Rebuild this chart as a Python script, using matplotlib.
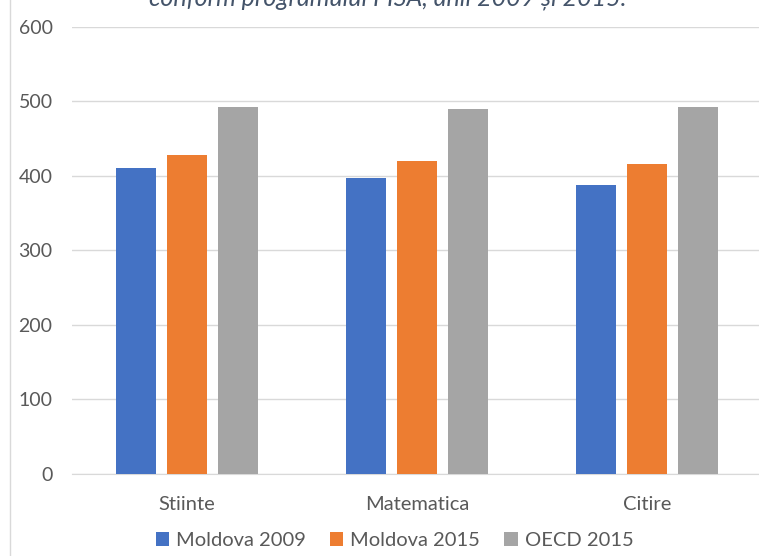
import matplotlib.pyplot as plt
import numpy as np

plt.rcParams['font.family'] = ['Lato', 'DejaVu Sans']

# date
categorii = ['Stiinte', 'Matematica', 'Citire']
serii = ['Moldova 2009', 'Moldova 2015', 'OECD 2015']
moldova_2009 = [411, 397, 388]
moldova_2015 = [428, 420, 416]
oecd_2015 = [493, 490, 493]
culori = ['#4472C4', '#ED7D31', '#A5A5A5']
titlu = 'conform programului PISA, anii 2009 și 2015.'

fig = plt.figure(figsize=(7.59, 5.56), dpi=100)
ax = fig.add_axes([0.0949, 0.1475, 0.909, 0.804])

x = np.arange(len(categorii))
latime = 0.174
pas = 0.222
for i, (vals, nume) in enumerate(zip([moldova_2009, moldova_2015, oecd_2015], serii)):
    ax.bar(x + (i - 1) * pas, vals, width=latime, color=culori[i], label=nume, zorder=3)

ax.set_xlim(-0.5, 2.5)
ax.set_ylim(0, 600)
ax.set_yticks(range(0, 601, 100))
ax.set_xticks(x)
ax.set_xticklabels(categorii)
ax.grid(axis='y', color='#D9D9D9', linewidth=1, zorder=0)
for s in ['top', 'right', 'left']:
    ax.spines[s].set_visible(False)
ax.spines['bottom'].set_color('#D9D9D9')
ax.tick_params(axis='y', length=0, pad=14, labelsize=14, labelcolor='#595959')
ax.tick_params(axis='x', length=0, pad=16, labelsize=14.5, labelcolor='#595959')

leg = fig.legend(loc='center', bbox_to_anchor=(0.52, 0.028), ncol=3, frameon=False,
                 fontsize=14.5, handlelength=0.65, handleheight=0.65, handletextpad=0.35,
                 columnspacing=1.2, labelcolor='#595959')

fig.text(0.511, 0.991, titlu, ha='center', va='baseline', fontsize=18,
         style='italic', color='#44546A')

# chenarul din stanga
fig.add_artist(plt.Line2D([10 / 759, 10 / 759], [0, 1], color='#D9D9D9', linewidth=1))

fig.savefig('out.png', dpi=100)
